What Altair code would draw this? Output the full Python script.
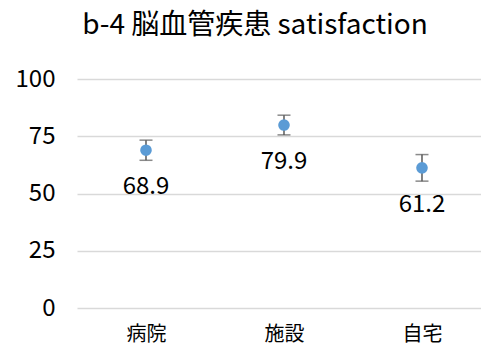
import altair as alt
import pandas as pd

# Satisfaction scores by care setting, with error margins
settings = ["病院", "施設", "自宅"]
scores = [68.9, 79.9, 61.2]
margins = [4.4, 4.3, 5.8]
y_ticks = [0, 25, 50, 75, 100]

df = pd.DataFrame({
    "setting": settings,
    "score": scores,
    "lo": [s - m for s, m in zip(scores, margins)],
    "hi": [s + m for s, m in zip(scores, margins)],
})

FONT = "Noto Sans CJK JP"

x = alt.X(
    "setting:N",
    sort=settings,
    title=None,
    scale=alt.Scale(type="point", padding=0.4638, align=0.539),
    axis=alt.Axis(
        labelAngle=0, labelFont=FONT, labelFontSize=20, labelColor="#000000",
        domain=False, ticks=False, grid=False, labelPadding=16,
    ),
)
y_scale = alt.Scale(domain=[0, 100], nice=False)
y_axis = alt.Axis(values=y_ticks, labelFont=FONT, labelFontSize=24,
                  labelColor="#000000", domain=False, ticks=False,
                  gridColor="#d9d9d9", gridWidth=1.5, labelPadding=22)

base = alt.Chart(df).encode(x=x)

bars = base.mark_rule(color="#595959", strokeWidth=1.5).encode(
    y=alt.Y("lo:Q", scale=y_scale, title=None, axis=y_axis),
    y2="hi:Q",
)
caps_lo = base.mark_tick(color="#595959", thickness=1.5, size=13, orient="horizontal").encode(
    y=alt.Y("lo:Q", scale=y_scale, title=None, axis=y_axis)
)
caps_hi = base.mark_tick(color="#595959", thickness=1.5, size=13, orient="horizontal").encode(
    y=alt.Y("hi:Q", scale=y_scale, title=None, axis=y_axis)
)
points = base.mark_point(filled=True, color="#5B9BD5", opacity=1, size=135).encode(
    y=alt.Y("score:Q", scale=y_scale, title=None, axis=y_axis)
)
labels = base.mark_text(font=FONT, fontSize=24, color="#000000", dy=37, baseline="middle").encode(
    y=alt.Y("score:Q", scale=y_scale, title=None, axis=y_axis),
    text=alt.Text("score:Q", format=".1f"),
)

chart = alt.layer(bars, caps_lo, caps_hi, points, labels).properties(
    width=404,
    height=229,
    background="white",
    title=alt.TitleParams(
        "b-4 脳血管疾患 satisfaction", font=FONT, fontSize=28, fontWeight="normal",
        color="#000000", anchor="middle", offset=27, dx=-24,
    ),
    padding={"left": 77, "top": 79, "right": 0, "bottom": 37},
    autosize=alt.AutoSizeParams(type="none"),
).configure_view(stroke="transparent", strokeWidth=0).configure_axis(
    domain=False, ticks=False
)

chart.save("out.html", embed_options={"renderer": "svg", "actions": False})
